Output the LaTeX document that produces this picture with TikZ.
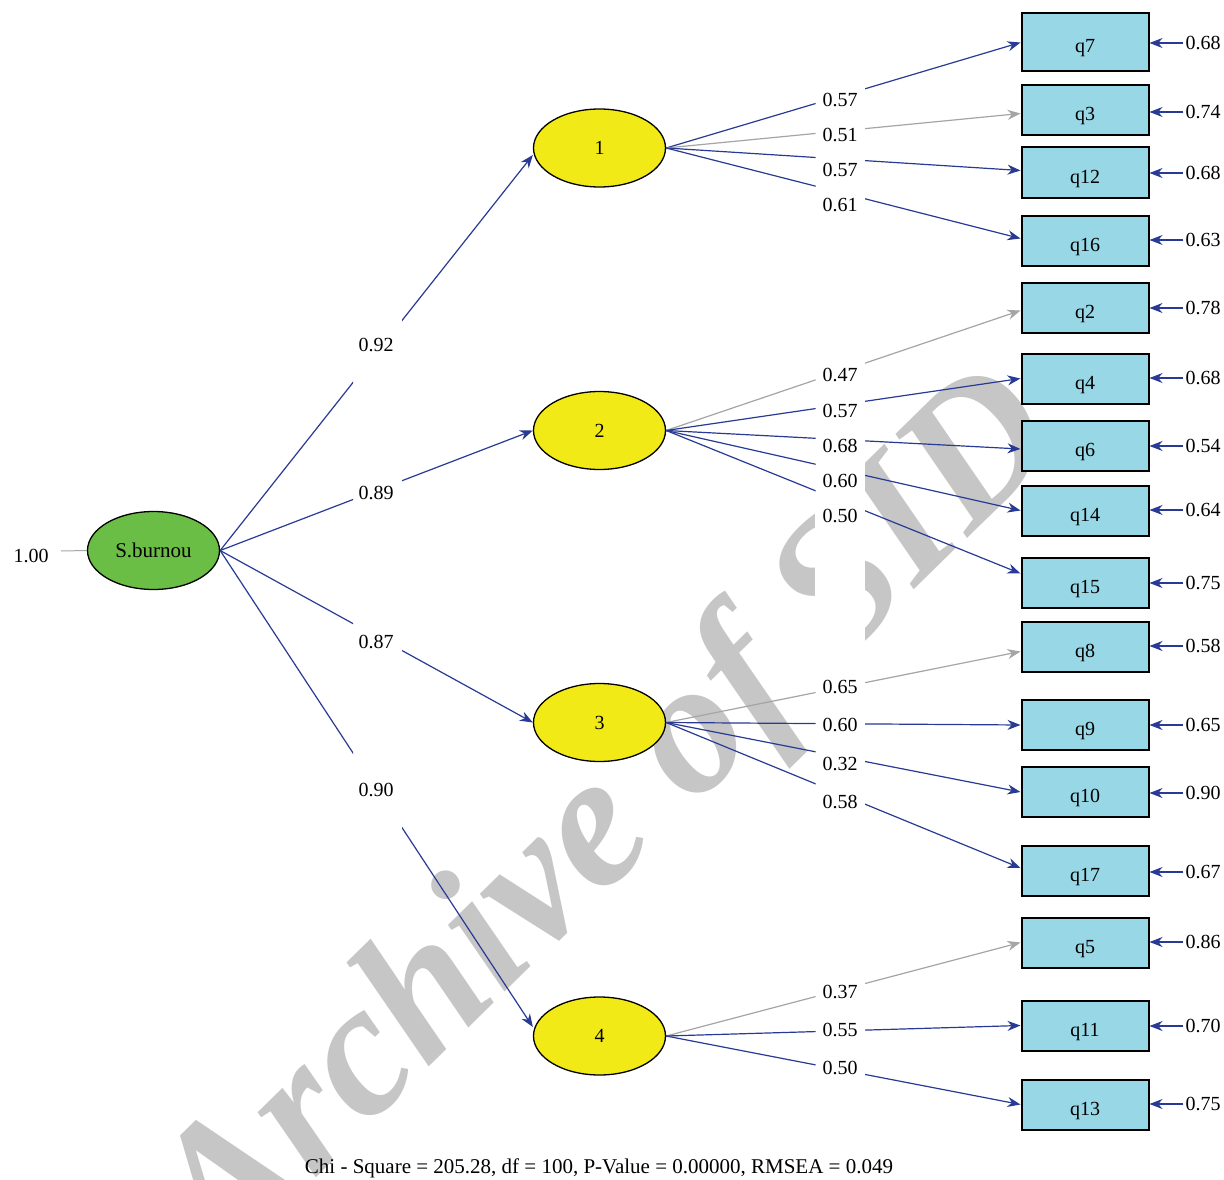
\documentclass[tikz,border=0pt]{standalone}
\usepackage{fontspec}
\setmainfont{Liberation Serif}
\usetikzlibrary{arrows.meta,shapes.geometric}
\definecolor{pathblue}{RGB}{40,58,148}
\definecolor{fixgray}{RGB}{165,165,165}
\definecolor{boxblue}{RGB}{152,216,230}
\definecolor{latyellow}{RGB}{242,234,22}
\definecolor{latgreen}{RGB}{106,189,69}
\definecolor{wmgray}{RGB}{198,198,198}
\begin{document}
\begin{tikzpicture}[x=1pt,y=-1pt,
  every node/.style={font=\fontsize{20}{24}\selectfont},
  latent/.style={ellipse, draw=black, line width=1.3pt, fill=latyellow, minimum width=132pt, minimum height=78pt, inner sep=0pt},
  obs/.style={rectangle, draw=black, line width=2pt, fill=boxblue, minimum width=127pt, minimum height=50pt, inner sep=0pt, text height=21pt, text depth=0pt},
  ld/.style={draw=pathblue, line width=1.2pt, -{Stealth[length=13pt,width=10pt]}},
  fx/.style={ld, draw=fixgray},
  coef/.style={inner sep=1pt},
  errlab/.style={inner xsep=2pt, inner ysep=0pt},
  wm/.style={text=wmgray, font=\fontsize{190}{190}\selectfont\bfseries\itshape}
]
\useasboundingbox (0,0) rectangle (1224,1180);
\clip (0,0) rectangle (1224,1180);
\fill[white] (0,0) rectangle (1224,1180);

% watermark
\node[wm, rotate=44.5] (watermark) at (612,822) {Archive of SID};
\fill[white] (815,380) rectangle (865,700);

% latent variables
\node[latent, fill=latgreen, font=\fontsize{21}{24}\selectfont] (sb) at (153.5,550.5) {S.burnou};
\node[latent] (f1) at (599.5,148) {1};
\node[latent] (f2) at (599.5,430.5) {2};
\node[latent] (f3) at (599.5,722.5) {3};
\node[latent] (f4) at (599.5,1036) {4};
\node (one) at (31,556) {1.00};
\coordinate (oneend) at (61,551);

% observed variables
\node[obs, minimum height=58pt] (q7) at (1085,42.5) {q7};
\node[obs] (q3)  at (1085,110.5) {q3};
\node[obs] (q12) at (1085,172.5) {q12};
\node[obs] (q16) at (1085,240.5) {q16};
\node[obs] (q2)  at (1085,307.5) {q2};
\node[obs] (q4)  at (1085,378.5) {q4};
\node[obs] (q6)  at (1085,446) {q6};
\node[obs] (q14) at (1085,510.5) {q14};
\node[obs] (q15) at (1085,582.5) {q15};
\node[obs] (q8)  at (1085,646.5) {q8};
\node[obs] (q9)  at (1085,725) {q9};
\node[obs] (q10) at (1085,792) {q10};
\node[obs] (q17) at (1085,871) {q17};
\node[obs] (q5)  at (1085,942.5) {q5};
\node[obs] (q11) at (1085,1025.5) {q11};
\node[obs] (q13) at (1085,1104.5) {q13};

% error variances
\node[errlab] (e7)  at (1203,43) {0.68};
\node[errlab] (e3)  at (1203,112) {0.74};
\node[errlab] (e12) at (1203,173) {0.68};
\node[errlab] (e16) at (1203,240) {0.63};
\node[errlab] (e2)  at (1203,308) {0.78};
\node[errlab] (e4)  at (1203,378) {0.68};
\node[errlab] (e6)  at (1203,446) {0.54};
\node[errlab] (e14) at (1203,510) {0.64};
\node[errlab] (e15) at (1203,583) {0.75};
\node[errlab] (e8)  at (1203,646) {0.58};
\node[errlab] (e9)  at (1203,725) {0.65};
\node[errlab] (e10) at (1203,793) {0.90};
\node[errlab] (e17) at (1203,872) {0.67};
\node[errlab] (e5)  at (1203,942) {0.86};
\node[errlab] (e11) at (1203,1026) {0.70};
\node[errlab] (e13) at (1203,1104) {0.75};
\foreach \q in {7,3,12,16,2,4,6,14,15,8,9,10,17,5,11,13}
  \draw[ld] (e\q.west) -- (e\q.west -| q\q.east);

% path coefficients
\node[coef] (l1) at (376,345) {0.92};
\node[coef] (l2) at (376,493) {0.89};
\node[coef] (l3) at (376,642) {0.87};
\node[coef] (l4) at (376,790) {0.90};
\node[coef] (c7)  at (840,100) {0.57};
\node[coef] (c3)  at (840,135) {0.51};
\node[coef] (c12) at (840,170) {0.57};
\node[coef] (c16) at (840,205) {0.61};
\node[coef] (c2)  at (840,375) {0.47};
\node[coef] (c4)  at (840,410.5) {0.57};
\node[coef] (c6)  at (840,446) {0.68};
\node[coef] (c14) at (840,481) {0.60};
\node[coef] (c15) at (840,516) {0.50};
\node[coef] (c8)  at (840,687) {0.65};
\node[coef] (c9)  at (840,725) {0.60};
\node[coef] (c10) at (840,763.5) {0.32};
\node[coef] (c17) at (840,801.5) {0.58};
\node[coef] (c5)  at (840,992) {0.37};
\node[coef] (c11) at (840,1030) {0.55};
\node[coef] (c13) at (840,1067.5) {0.50};

\draw[draw=fixgray, line width=1pt] (oneend) -- (sb.west);

% paths, broken at the label columns
\begin{scope}
\clip (0,0) rectangle (353,1180) (402,0) rectangle (815.5,1180) (865,0) rectangle (1224,1180);
% second order
\draw[ld] (sb.east) -- ([yshift=-7pt]f1.west);
\draw[ld] (sb.east) -- (f2.west);
\draw[ld] (sb.east) -- (f3.west);
\draw[ld] (sb.east) -- ([yshift=9pt]f4.west);
% factor 1
\draw[ld] (f1.east) -- (q7.west);
\draw[fx] (f1.east) -- ([yshift=-3pt]q3.west);
\draw[ld] (f1.east) -- ([yshift=2pt]q12.west);
\draw[ld] (f1.east) -- ([yshift=2pt]q16.west);
% factor 2
\draw[fx] (f2.east) -- ([yshift=-3pt]q2.west);
\draw[ld] (f2.east) -- (q4.west);
\draw[ld] (f2.east) -- ([yshift=-3pt]q6.west);
\draw[ld] (f2.east) -- (q14.west);
\draw[ld] (f2.east) -- ([yshift=9pt]q15.west);
% factor 3
\draw[fx] (f3.east) -- ([yshift=-5pt]q8.west);
\draw[ld] (f3.east) -- (q9.west);
\draw[ld] (f3.east) -- (q10.west);
\draw[ld] (f3.east) -- ([yshift=3pt]q17.west);
% factor 4
\draw[fx] (f4.east) -- (q5.west);
\draw[ld] (f4.east) -- (q11.west);
\draw[ld] (f4.east) -- (q13.west);
\end{scope}

% fit statistics
\node[font=\fontsize{21}{24}\selectfont] (fitnote) at (599,1168) {Chi - Square = 205.28, df = 100, P-Value = 0.00000, RMSEA = 0.049};
\end{tikzpicture}
\end{document}
